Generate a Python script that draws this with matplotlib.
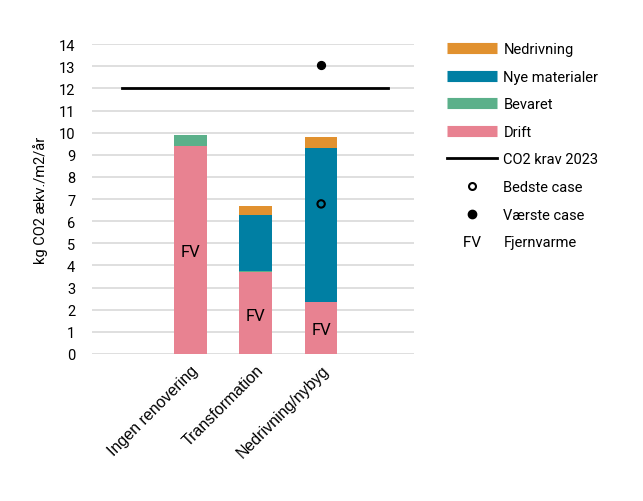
import matplotlib.pyplot as plt
from matplotlib.lines import Line2D

plt.rcParams['font.family'] = ['Roboto', 'DejaVu Sans']

categories = ["Ingen renovering", "Transformation", "Nedrivning/nybyg"]
drift = [9.4, 3.72, 2.35]
bevaret = [0.5, 0.05, 0.0]
nye = [0.0, 2.5, 6.95]
nedrivning = [0.0, 0.4, 0.5]
fv_y = [4.65, 1.75, 1.1]
krav = 12
bedste = [(2, 6.78)]
vaerste = [(2, 13.05)]

c_ned = "#E1912F"
c_nye = "#007FA3"
c_bev = "#5BB08A"
c_drift = "#E88291"

fig = plt.figure(figsize=(6.43, 5.02), dpi=100)
ax = fig.add_axes([0.143, 0.293, 0.501, 0.617])

x = list(range(len(categories)))
w = 0.5
ax.bar(x, drift, w, color=c_drift, zorder=3)
b1 = [d for d in drift]
ax.bar(x, bevaret, w, bottom=b1, color=c_bev, zorder=3)
b2 = [d + b for d, b in zip(drift, bevaret)]
ax.bar(x, nye, w, bottom=b2, color=c_nye, zorder=3)
b3 = [a + n for a, n in zip(b2, nye)]
ax.bar(x, nedrivning, w, bottom=b3, color=c_ned, zorder=3)

ax.plot([-1.04, 3.02], [krav, krav], color="black", lw=2, zorder=4)
ax.scatter([p[0] for p in bedste], [p[1] for p in bedste], s=28, facecolor="none",
           edgecolor="black", linewidth=1.5, zorder=5)
ax.scatter([p[0] for p in vaerste], [p[1] for p in vaerste], s=32, color="black", zorder=5)

for xi, yi in zip(x, fv_y):
    ax.text(xi, yi, "FV", ha="center", va="center", fontsize=12, zorder=6)

ax.set_xlim(-1.5, 3.42)
ax.set_ylim(0, 14)
ax.set_yticks(range(0, 15))
ax.yaxis.grid(True, color="#D9D9D9", lw=1.2, zorder=0)
ax.tick_params(axis="y", length=0, labelsize=10.5, pad=12)
ax.tick_params(axis="x", length=0, pad=6)
ax.set_xticks(x)
ax.set_xticklabels(categories, rotation=45, ha="right", rotation_mode="anchor",
                   fontsize=11.5, family=["Liberation Sans", "DejaVu Sans"])
for s in ax.spines.values():
    s.set_visible(False)
ax.set_ylabel("kg CO2 ækv./m2/år", fontsize=10.5, labelpad=8)

handles = [
    Line2D([], [], color=c_ned, lw=8, solid_capstyle="butt"),
    Line2D([], [], color=c_nye, lw=8, solid_capstyle="butt"),
    Line2D([], [], color=c_bev, lw=8, solid_capstyle="butt"),
    Line2D([], [], color=c_drift, lw=8, solid_capstyle="butt"),
    Line2D([], [], color="black", lw=2),
    Line2D([], [], ls="none", marker="o", markerfacecolor="none", markeredgecolor="black",
           markeredgewidth=1.5, markersize=5),
    Line2D([], [], ls="none", marker="o", color="black", markersize=6),
    Line2D([], [], ls="none", marker="$\\mathregular{FV}$", color="black", markersize=12,
           markeredgewidth=0),
]
labels = ["Nedrivning", "Nye materialer", "Bevaret", "Drift", "CO2 krav 2023",
          "Bedste case", "Værste case", "Fjernvarme"]
fig.legend(handles, labels, loc="upper left", bbox_to_anchor=(0.675, 0.94),
           frameon=False, fontsize=10.5, handlelength=3.4, labelspacing=0.93,
           handletextpad=0.45)

fig.savefig("out.png", dpi=100)
